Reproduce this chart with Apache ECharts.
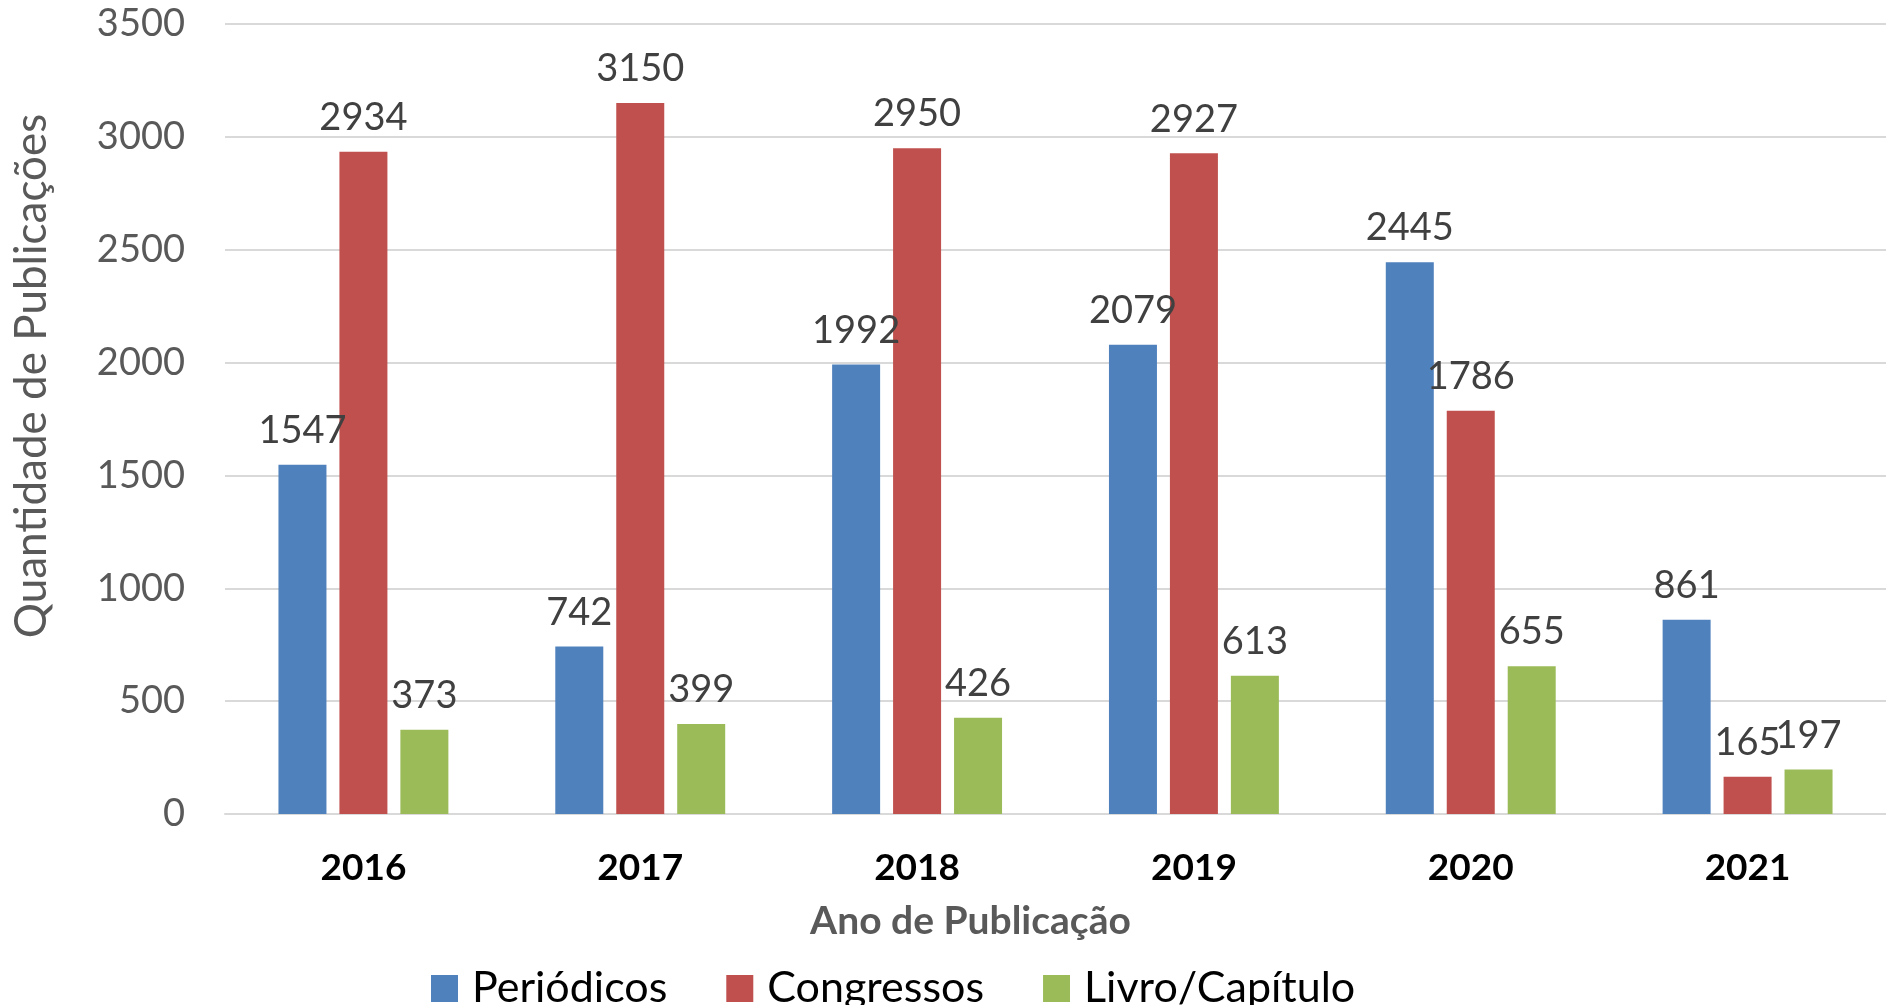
<!DOCTYPE html>
<html>
<head>
<meta charset="utf-8">
<script src="https://cdn.jsdelivr.net/npm/echarts@6/dist/echarts.min.js"></script>
<style>
  html, body { margin: 0; padding: 0; background: #fff; }
  #main { width: 1886px; height: 1005px; }
</style>
</head>
<body>
<div id="main"></div>
<script>
// dados do gráfico
var anos = ['2016', '2017', '2018', '2019', '2020', '2021'];
var periodicos = [1547, 742, 1992, 2079, 2445, 861];
var congressos = [2934, 3150, 2950, 2927, 1786, 165];
var livros = [373, 399, 426, 613, 655, 197];

var fonte = 'Lato, "Noto Sans", sans-serif';

function serie(nome, dados, cor) {
  return {
    name: nome,
    type: 'bar',
    data: dados,
    barWidth: 48,
    barGap: '27%',
    itemStyle: { color: cor },
    label: {
      show: true,
      position: 'top',
      distance: 15,
      color: '#404040',
      fontFamily: fonte,
      fontSize: 38
    }
  };
}

var option = {
  animation: false,
  textStyle: { fontFamily: fonte },
  grid: { left: 225, right: -5, top: 24, bottom: 191 },
  legend: {
    left: 426,
    top: 962,
    itemWidth: 27,
    itemHeight: 27,
    itemGap: 59,
    icon: 'rect',
    textStyle: { color: '#000', fontSize: 43, fontFamily: fonte, padding: [0, 0, 0, 9] },
    data: ['Periódicos', 'Congressos', 'Livro/Capítulo']
  },
  xAxis: {
    type: 'category',
    data: anos,
    axisTick: { show: false },
    axisLine: { lineStyle: { color: '#D9D9D9', width: 2 } },
    axisLabel: { color: '#000', fontWeight: 'bold', fontSize: 37, margin: 36, fontFamily: fonte },
    name: 'Ano de Publicação',
    nameLocation: 'middle',
    nameGap: 88,
    nameTextStyle: { color: '#595959', fontWeight: 'bold', fontSize: 39, fontFamily: fonte, padding: [0, 170, 0, 0] }
  },
  yAxis: {
    type: 'value',
    min: 0,
    max: 3500,
    interval: 500,
    axisLine: { show: false },
    axisTick: { show: false },
    splitLine: { lineStyle: { color: '#D9D9D9', width: 2 } },
    axisLabel: {
      color: '#595959', fontSize: 38, margin: 40, fontFamily: fonte,
      formatter: function (v) { return String(v); }
    },
    name: 'Quantidade de Publicações',
    nameLocation: 'middle',
    nameGap: 171,
    nameTextStyle: { color: '#595959', fontSize: 44, fontFamily: fonte, padding: [0, 0, 0, 86] }
  },
  series: [
    serie('Periódicos', periodicos, '#4F81BD'),
    serie('Congressos', congressos, '#C0504D'),
    serie('Livro/Capítulo', livros, '#9BBB59')
  ]
};

var chart = echarts.init(document.getElementById('main'));
chart.setOption(option);
</script>
</body>
</html>
